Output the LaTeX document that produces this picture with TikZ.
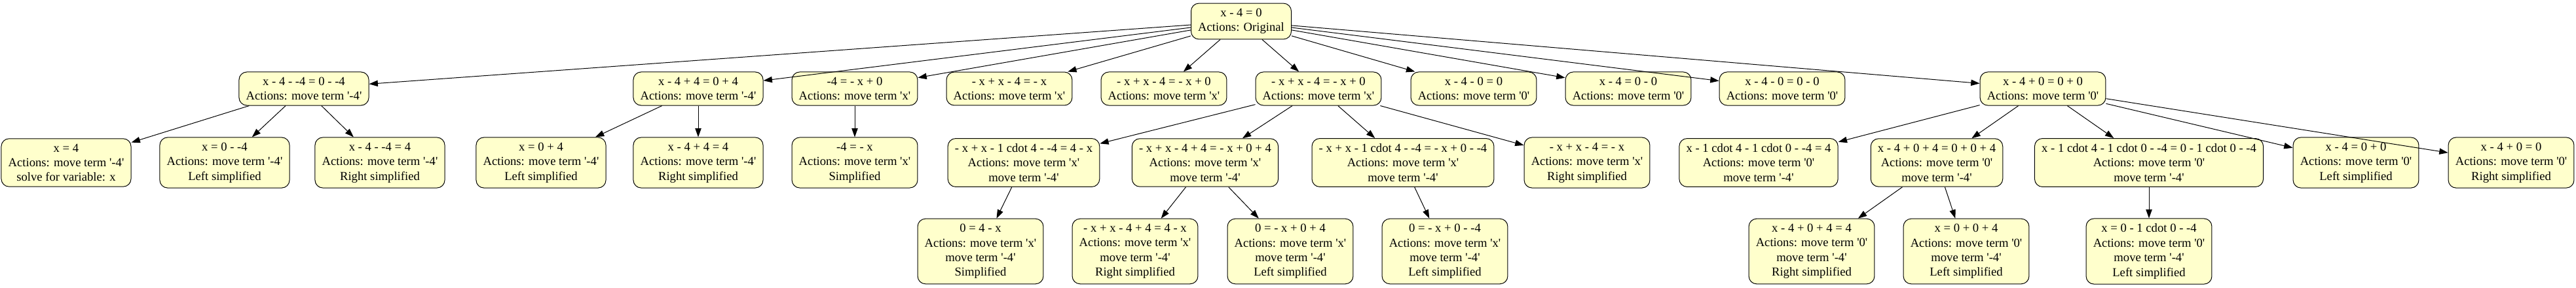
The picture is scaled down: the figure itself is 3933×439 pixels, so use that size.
\documentclass[tikz,border=0pt]{standalone}
\usepackage{fontspec}
\setmainfont{Liberation Serif}
\usetikzlibrary{arrows.meta}
\definecolor{stateyellow}{HTML}{FFFFCC}
\newcommand{\tq}[1]{\textquotesingle#1\textquotesingle}

\begin{document}
\begin{tikzpicture}[
>={Triangle[length=10pt,width=7pt]},
x=0.75pt, y=-0.75pt,
line width=0.75pt,
state/.style={draw, rounded corners=9pt, fill=stateyellow, align=center,
  font=\fontsize{14}{16.8}\selectfont, inner xsep=8pt, inner ysep=6pt},
]
\useasboundingbox (0,0) rectangle (3933,439);

%% level 0
\node[state] (r) at (1895,32.5) {x - 4 = 0\\Actions: Original};

%% level 1
% nodes
\node[state] (a1) at (464,135.5) {x - 4 - -4 = 0 - -4\\Actions: move term \tq{-4}};
\node[state] (a2) at (1066,135.5) {x - 4 + 4 = 0 + 4\\Actions: move term \tq{-4}};
\node[state] (a3) at (1305,135.5) {-4 = - x + 0\\Actions: move term \tq{x}};
\node[state] (a4) at (1541,135.5) {- x + x - 4 = - x\\Actions: move term \tq{x}};
\node[state] (a5) at (1777,135.5) {- x + x - 4 = - x + 0\\Actions: move term \tq{x}};
\node[state] (a6) at (2013,135.5) {- x + x - 4 = - x + 0\\Actions: move term \tq{x}};
\node[state] (a7) at (2250,135.5) {x - 4 - 0 = 0\\Actions: move term \tq{0}};
\node[state] (a8) at (2486,135.5) {x - 4 = 0 - 0\\Actions: move term \tq{0}};
\node[state] (a9) at (2721,135.5) {x - 4 - 0 = 0 - 0\\Actions: move term \tq{0}};
\node[state] (a10) at (3119,135.5) {x - 4 + 0 = 0 + 0\\Actions: move term \tq{0}};
% arrows
\draw[->] (r) -- (a1);
\draw[->] (r) -- (a2);
\draw[->] (r) -- (a3);
\draw[->] (r) -- (a4);
\draw[->] (r) -- (a5);
\draw[->] (r) -- (a6);
\draw[->] (r) -- (a7);
\draw[->] (r) -- (a8);
\draw[->] (r) -- (a9);
\draw[->] (r) -- (a10);

%% level 2
% nodes
\node[state] (b1) at (101,248.5) {x = 4\\Actions: move term \tq{-4}\\solve for variable: x};
\node[state] (b2) at (343,248.5) {x = 0 - -4\\Actions: move term \tq{-4}\\Left simplified};
\node[state] (b3) at (580,248.5) {x - 4 - -4 = 4\\Actions: move term \tq{-4}\\Right simplified};
\node[state] (b4) at (826,248.5) {x = 0 + 4\\Actions: move term \tq{-4}\\Left simplified};
\node[state] (b5) at (1066,248.5) {x - 4 + 4 = 4\\Actions: move term \tq{-4}\\Right simplified};
\node[state] (b6) at (1305,248.5) {-4 = - x\\Actions: move term \tq{x}\\Simplified};
\node[state] (b7) at (1563,248.5) {- x + x - 1 cdot 4 - -4 = 4 - x\\Actions: move term \tq{x}\\move term \tq{-4}};
\node[state] (b8) at (1840,248.5) {- x + x - 4 + 4 = - x + 0 + 4\\Actions: move term \tq{x}\\move term \tq{-4}};
\node[state] (b9) at (2142,248.5) {- x + x - 1 cdot 4 - -4 = - x + 0 - -4\\Actions: move term \tq{x}\\move term \tq{-4}};
\node[state] (b10) at (2423,248.5) {- x + x - 4 = - x\\Actions: move term \tq{x}\\Right simplified};
\node[state] (b11) at (2685,248.5) {x - 1 cdot 4 - 1 cdot 0 - -4 = 4\\Actions: move term \tq{0}\\move term \tq{-4}};
\node[state] (b12) at (2957,248.5) {x - 4 + 0 + 4 = 0 + 0 + 4\\Actions: move term \tq{0}\\move term \tq{-4}};
\node[state] (b13) at (3281,248.5) {x - 1 cdot 4 - 1 cdot 0 - -4 = 0 - 1 cdot 0 - -4\\Actions: move term \tq{0}\\move term \tq{-4}};
\node[state] (b14) at (3597,248.5) {x - 4 = 0 + 0\\Actions: move term \tq{0}\\Left simplified};
\node[state] (b15) at (3834,248.5) {x - 4 + 0 = 0\\Actions: move term \tq{0}\\Right simplified};
% arrows
\draw[->] (a1) -- (b1);
\draw[->] (a1) -- (b2);
\draw[->] (a1) -- (b3);
\draw[->] (a2) -- (b4);
\draw[->] (a2) -- (b5);
\draw[->] (a3) -- (b6);
\draw[->] (a6) -- (b7);
\draw[->] (a6) -- (b8);
\draw[->] (a6) -- (b9);
\draw[->] (a6) -- (b10);
\draw[->] (a10) -- (b11);
\draw[->] (a10) -- (b12);
\draw[->] (a10) -- (b13);
\draw[->] (a10) -- (b14);
\draw[->] (a10) -- (b15);

%% level 3
% nodes
\node[state] (c1) at (1497,384) {0 = 4 - x\\Actions: move term \tq{x}\\move term \tq{-4}\\Simplified};
\node[state] (c2) at (1733,384) {- x + x - 4 + 4 = 4 - x\\Actions: move term \tq{x}\\move term \tq{-4}\\Right simplified};
\node[state] (c3) at (1970,384) {0 = - x + 0 + 4\\Actions: move term \tq{x}\\move term \tq{-4}\\Left simplified};
\node[state] (c4) at (2206,384) {0 = - x + 0 - -4\\Actions: move term \tq{x}\\move term \tq{-4}\\Left simplified};
\node[state] (c5) at (2766,384) {x - 4 + 0 + 4 = 4\\Actions: move term \tq{0}\\move term \tq{-4}\\Right simplified};
\node[state] (c6) at (3002,384) {x = 0 + 0 + 4\\Actions: move term \tq{0}\\move term \tq{-4}\\Left simplified};
\node[state] (c7) at (3281,384) {x = 0 - 1 cdot 0 - -4\\Actions: move term \tq{0}\\move term \tq{-4}\\Left simplified};
% arrows
\draw[->] (b7) -- (c1);
\draw[->] (b8) -- (c2);
\draw[->] (b8) -- (c3);
\draw[->] (b9) -- (c4);
\draw[->] (b12) -- (c5);
\draw[->] (b12) -- (c6);
\draw[->] (b13) -- (c7);
\end{tikzpicture}
\end{document}
